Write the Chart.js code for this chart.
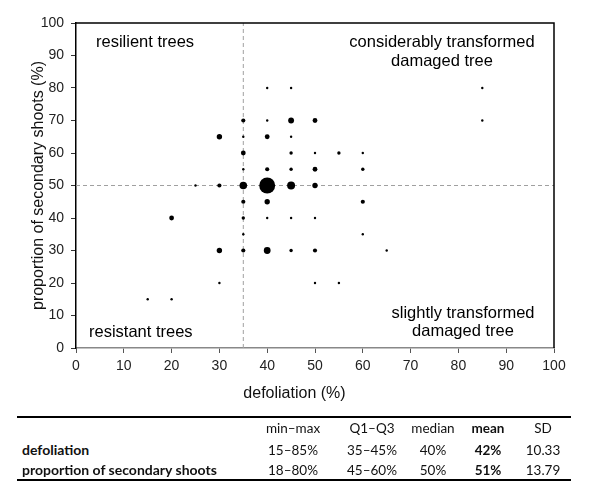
<!DOCTYPE html>
<html>
<head>
<meta charset="utf-8">
<script src="https://cdn.jsdelivr.net/npm/chart.js@4.4.1/dist/chart.umd.min.js"></script>
<style>
  body { margin: 0; background: #fff; }
  #wrap { position: relative; width: 589px; height: 494px; font-family: "Liberation Sans", Arial, sans-serif; }
  #chartBox { position: absolute; left: 0; top: 0; width: 589px; height: 410px; }
  #xTitle { position: absolute; left: 0; top: 383px; width: 589px; text-align: center; font-size: 16px; line-height: 20px; color: #111; }
  .rule { position: absolute; left: 17px; width: 554px; height: 2px; background: #000; }
  .cell { position: absolute; width: 100px; margin-left: -50px; text-align: center; font: 13.5px Lato, sans-serif; line-height: 16px; color: #111; }
  .rowLabel { position: absolute; left: 22px; font: bold 14px Lato, sans-serif; line-height: 16px; color: #111; }
  .bold { font-weight: bold; }
</style>
</head>
<body>
<div id="wrap">
  <div id="chartBox"><canvas id="scatterChart"></canvas></div>
  <div id="xTitle">defoliation (%)</div>
  <div id="statsTable"></div>
</div>
<script>
// one point per observed combination, treeCount = number of trees at that point
const defoliation = [40, 45, 35, 40, 45, 50, 30, 35, 40, 45, 35, 45, 50, 55, 60, 35, 40, 45, 50, 60,
  25, 30, 35, 40, 45, 50, 35, 40, 60, 20, 35, 40, 45, 50, 35, 60, 30, 35, 40, 45, 50, 65, 30, 50, 55, 15, 20, 85, 85];
const secondaryShoots = [80, 80, 70, 70, 70, 70, 65, 65, 65, 65, 60, 60, 60, 60, 60, 55, 55, 55, 55, 55,
  50, 50, 50, 50, 50, 50, 45, 45, 45, 40, 40, 40, 40, 40, 35, 35, 30, 30, 30, 30, 30, 30, 20, 20, 20, 15, 15, 80, 70];
const treeCount = [1, 1, 3, 1, 6, 4, 5, 1, 4, 1, 4, 2, 1, 2, 1, 1, 3, 2, 4, 2,
  1, 3, 10, 44, 11, 5, 3, 5, 3, 4, 2, 1, 1, 1, 1, 1, 5, 3, 8, 2, 3, 1, 1, 1, 1, 1, 1, 1, 1];

const medianDefoliation = 35;
const medianShoots = 50;
const axisTicks = [0, 10, 20, 30, 40, 50, 60, 70, 80, 90, 100];

const statsHeader = ['min–max', 'Q1–Q3', 'median', 'mean', 'SD'];
const statsRows = [
  { label: 'defoliation', values: ['15–85%', '35–45%', '40%', '42%', '10.33'] },
  { label: 'proportion of secondary shoots', values: ['18–80%', '45–60%', '50%', '51%', '13.79'] }
];

const points = defoliation.map((x, i) => ({ x: x, y: secondaryShoots[i] }));

const tickFont = { family: 'Liberation Sans', size: 14 };

// frame on top/right plus the quadrant captions
const framePlugin = {
  id: 'frame',
  afterDraw(chart) {
    const ctx = chart.ctx;
    const a = chart.chartArea;
    ctx.save();
    ctx.strokeStyle = '#000';
    ctx.lineWidth = 1.5;
    ctx.beginPath();
    ctx.moveTo(a.left, a.top);
    ctx.lineTo(a.right, a.top);
    ctx.lineTo(a.right, a.bottom);
    ctx.stroke();

    ctx.fillStyle = '#000';
    ctx.font = '16.5px "Liberation Sans"';
    ctx.textBaseline = 'middle';
    ctx.textAlign = 'left';
    ctx.fillText('resilient trees', a.left + 20, a.top + 19);
    ctx.fillText('resistant trees', a.left + 13, a.bottom - 16);
    ctx.textAlign = 'center';
    ctx.fillText('considerably transformed', a.right - 112, a.top + 19);
    ctx.fillText('damaged tree', a.right - 112, a.top + 38);
    ctx.fillText('slightly transformed', a.right - 91, a.bottom - 35);
    ctx.fillText('damaged tree', a.right - 91, a.bottom - 17);
    ctx.restore();
  }
};

const ctx = document.getElementById('scatterChart').getContext('2d');
const scatterChart = new Chart(ctx, {
  type: 'bubble',
  data: {
    datasets: [{
      label: 'trees',
      data: points,
      backgroundColor: '#000',
      borderWidth: 0,
      radius: (c) => 1.2 * Math.sqrt(treeCount[c.dataIndex] || 1),
      hoverRadius: 0,
      order: 1
    }, {
      type: 'line',
      label: 'median defoliation',
      data: [{ x: medianDefoliation, y: 0 }, { x: medianDefoliation, y: 100 }],
      borderColor: '#a0a0a0',
      borderWidth: 1,
      borderDash: [4, 3],
      pointRadius: 0,
      order: 2
    }, {
      type: 'line',
      label: 'median shoots',
      data: [{ x: 0, y: medianShoots }, { x: 100, y: medianShoots }],
      borderColor: '#a0a0a0',
      borderWidth: 1,
      borderDash: [4, 3],
      pointRadius: 0,
      order: 2
    }]
  },
  options: {
    responsive: true,
    maintainAspectRatio: false,
    animation: false,
    layout: { padding: { left: 0, top: 23, right: 35, bottom: 0 } },
    scales: {
      x: {
        type: 'linear',
        min: 0,
        max: 100,
        afterBuildTicks: (scale) => { scale.ticks = axisTicks.map(v => ({ value: v })); },
        afterFit: (scale) => { scale.height = 62; },
        ticks: { font: tickFont, color: '#222', padding: 5, maxRotation: 0 },
        grid: { drawOnChartArea: false, drawTicks: true, tickLength: 5, color: '#555' },
        border: { display: true, color: '#888', width: 1.5 }
      },
      y: {
        type: 'linear',
        min: 0,
        max: 100,
        afterBuildTicks: (scale) => { scale.ticks = axisTicks.map(v => ({ value: v })); },
        afterFit: (scale) => { scale.width = 76; },
        ticks: { font: tickFont, color: '#222', padding: 7 },
        grid: { drawOnChartArea: false, drawTicks: true, tickLength: 5, color: '#333' },
        border: { display: true, color: '#000', width: 1.5 },
        title: {
          display: true,
          text: 'proportion of secondary shoots (%)',
          font: { family: 'Liberation Sans', size: 16 },
          color: '#111',
          padding: { top: 29, bottom: 0 }
        }
      }
    },
    plugins: {
      legend: { display: false },
      tooltip: { enabled: false }
    }
  },
  plugins: [framePlugin]
});

// summary table under the chart
function buildStatsTable() {
  const box = document.getElementById('statsTable');
  const centers = [293, 372, 433, 488, 543];
  let html = '<div class="rule" style="top:416px"></div><div class="rule" style="top:479px"></div>';
  statsHeader.forEach((h, i) => {
    const cls = h === 'mean' ? 'cell bold' : 'cell';
    html += `<div class="${cls}" style="left:${centers[i]}px;top:420px">${h}</div>`;
  });
  statsRows.forEach((row, r) => {
    const top = 442 + r * 20;
    html += `<div class="rowLabel" style="top:${top}px">${row.label}</div>`;
    row.values.forEach((v, i) => {
      const cls = statsHeader[i] === 'mean' ? 'cell bold' : 'cell';
      html += `<div class="${cls}" style="left:${centers[i]}px;top:${top}px">${v}</div>`;
    });
  });
  box.innerHTML = html;
}

buildStatsTable();
</script>
</body>
</html>
